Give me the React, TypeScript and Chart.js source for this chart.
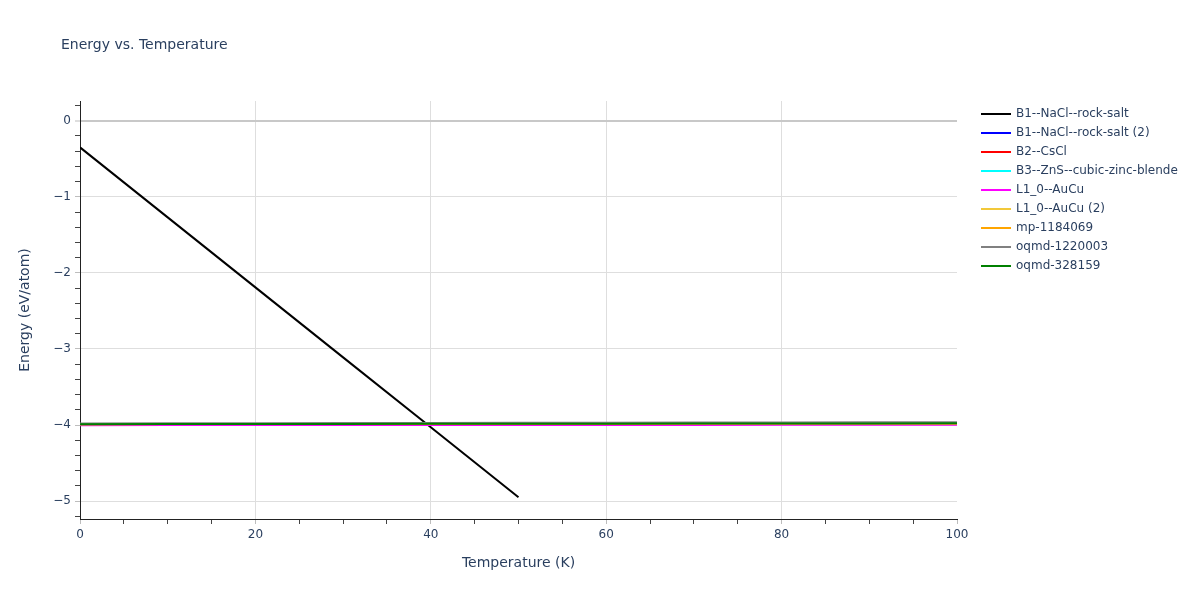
import React, { useEffect, useRef } from 'react';
import { Chart, registerables } from 'chart.js';

Chart.register(...registerables);

const chartTitle = 'Energy vs. Temperature';
const xAxisTitle = 'Temperature (K)';
const yAxisTitle = 'Energy (eV/atom)';

const seriesNames = [
  'B1--NaCl--rock-salt',
  'B1--NaCl--rock-salt (2)',
  'B2--CsCl',
  'B3--ZnS--cubic-zinc-blende',
  'L1_0--AuCu',
  'L1_0--AuCu (2)',
  'mp-1184069',
  'oqmd-1220003',
  'oqmd-328159',
];
const seriesColors = ['#000000', '#0000ff', '#ff0000', '#00ffff', '#ff00ff', '#f2c83a', '#ffa500', '#808080', '#008000'];

const shortTemps = [0, 10, 20, 30, 40, 50];
const fullTemps = [0, 10, 20, 30, 40, 50, 60, 70, 80, 90, 100];

const rockSalt = [-0.35, -1.27, -2.19, -3.11, -4.03, -4.95];
const rockSalt2 = [-3.988, -3.987, -3.986, -3.985, -3.984, -3.983, -3.982, -3.981, -3.98, -3.979, -3.978];
const csCl = [-3.988, -3.987, -3.986, -3.985, -3.984, -3.983, -3.982, -3.981, -3.98, -3.979, -3.978];
const znS = [-3.988, -3.987, -3.986, -3.985, -3.984, -3.983, -3.982, -3.981, -3.98, -3.979, -3.978];
const auCu = [-4.001, -4.0, -4.0, -4.0, -3.999, -3.999, -3.998, -3.998, -3.997, -3.997, -3.996];
const auCu2 = [-3.988, -3.987, -3.986, -3.985, -3.984, -3.983, -3.982, -3.981, -3.98, -3.979, -3.978];
const mp1184069 = [-3.988, -3.987, -3.986, -3.985, -3.984, -3.983, -3.982, -3.981, -3.98, -3.979, -3.978];
const oqmd1220003 = [-3.979, -3.977, -3.976, -3.974, -3.972, -3.971, -3.969, -3.967, -3.965, -3.964, -3.962];
const oqmd328159 = [-3.988, -3.987, -3.986, -3.985, -3.984, -3.983, -3.982, -3.981, -3.979, -3.978, -3.977];

const seriesValues = [rockSalt, rockSalt2, csCl, znS, auCu, auCu2, mp1184069, oqmd1220003, oqmd328159];
const seriesTemps = [shortTemps, fullTemps, fullTemps, fullTemps, fullTemps, fullTemps, fullTemps, fullTemps, fullTemps];

const xMin = 0;
const xMax = 100;
const xStep = 5;
const xLabelEvery = 20;
const yMin = -5.235;
const yMax = 0.26;
const yStep = 0.2;

const FONT = '"DejaVu Sans", Verdana, sans-serif';
const TEXT = '#2a3f5f';

const isMultiple = (v: number, m: number) => Math.abs(v / m - Math.round(v / m)) < 1e-6;
const fmt = (v: number) => (v < 0 ? '\u2212' + String(Math.abs(Math.round(v))) : String(Math.round(v)));

const overlayPlugin = {
  id: 'overlay',
  afterDraw(chart: any) {
    const ctx = chart.ctx;
    ctx.save();
    ctx.fillStyle = TEXT;
    ctx.font = `14px ${FONT}`;
    ctx.textBaseline = 'middle';
    ctx.textAlign = 'left';
    ctx.fillText(chartTitle, 61, 45);

    ctx.font = `12px ${FONT}`;
    chart.data.datasets.forEach((ds: any, i: number) => {
      const y = 114 + 19 * i;
      ctx.strokeStyle = ds.borderColor;
      ctx.lineWidth = 2;
      ctx.beginPath();
      ctx.moveTo(981, y);
      ctx.lineTo(1011, y);
      ctx.stroke();
      ctx.fillStyle = TEXT;
      ctx.fillText(ds.label, 1016, y);
    });
    ctx.restore();
  },
};

export default function App() {
  const ref = useRef<HTMLCanvasElement | null>(null);

  useEffect(() => {
    if (!ref.current) return;
    const n = seriesNames.length;
    const datasets = seriesNames.map((name, i) => ({
      label: name,
      data: seriesValues[i].map((v, j) => ({ x: seriesTemps[i][j], y: v })),
      borderColor: seriesColors[i],
      backgroundColor: seriesColors[i],
      borderWidth: 2,
      pointRadius: 0,
      fill: false,
      tension: 0,
      order: n - i,
    }));

    const chart = new Chart(ref.current, {
      type: 'line',
      data: { datasets },
      plugins: [overlayPlugin],
      options: {
        animation: false,
        responsive: false,
        maintainAspectRatio: false,
        layout: { padding: { top: 101, right: 243, left: 0, bottom: 0 } },
        plugins: {
          legend: { display: false },
          title: { display: false },
          tooltip: { enabled: false },
        },
        scales: {
          x: {
            type: 'linear',
            min: xMin,
            max: xMax,
            afterFit: (s: any) => {
              s.height = 81;
            },
            ticks: {
              stepSize: xStep,
              autoSkip: false,
              maxRotation: 0,
              maxTicksLimit: 100,
              includeBounds: false,
              padding: 4,
              color: TEXT,
              font: { family: FONT, size: 12 },
              callback: (v: any) => (isMultiple(Number(v), xLabelEvery) ? fmt(Number(v)) : ''),
            },
            grid: {
              color: (c: any) => {
                const v = c.tick ? c.tick.value : NaN;
                return isMultiple(v, xLabelEvery) && v !== xMin && v !== xMax ? '#dedede' : 'rgba(0,0,0,0)';
              },
              tickColor: (c: any) => {
                const v = c.tick ? c.tick.value : NaN;
                return isMultiple(v, xLabelEvery) ? '#bdbdbd' : '#444444';
              },
              tickLength: 5,
              tickWidth: 1,
              lineWidth: 1,
            },
            border: { display: true, color: '#222222', width: 1 },
            title: {
              display: true,
              text: xAxisTitle,
              color: TEXT,
              font: { family: FONT, size: 14, lineHeight: 1.2 },
              padding: { top: 0, bottom: 28.6 },
            },
          },
          y: {
            type: 'linear',
            min: yMin,
            max: yMax,
            afterFit: (s: any) => {
              s.width = 80;
            },
            ticks: {
              stepSize: yStep,
              autoSkip: false,
              maxTicksLimit: 100,
              includeBounds: false,
              padding: 4,
              color: TEXT,
              font: { family: FONT, size: 12 },
              callback: (v: any) => (isMultiple(Number(v), 1) ? fmt(Number(v)) : ''),
            },
            grid: {
              color: (c: any) => {
                const v = c.tick ? c.tick.value : NaN;
                if (Math.abs(v) < 1e-6) return '#c8c8c8';
                return isMultiple(v, 1) ? '#dedede' : 'rgba(0,0,0,0)';
              },
              lineWidth: (c: any) => {
                const v = c.tick ? c.tick.value : NaN;
                return Math.abs(v) < 1e-6 ? 2 : 1;
              },
              tickColor: (c: any) => {
                const v = c.tick ? c.tick.value : NaN;
                return isMultiple(v, 1) ? '#bdbdbd' : '#444444';
              },
              tickLength: 5,
              tickWidth: 1,
            },
            border: { display: true, color: '#222222', width: 1 },
            title: {
              display: true,
              text: yAxisTitle,
              color: TEXT,
              font: { family: FONT, size: 14, lineHeight: 1.2 },
              padding: { top: 16.6, bottom: 0 },
            },
          },
        },
      },
    } as any);

    return () => chart.destroy();
  }, []);

  return (
    <div style={{ position: 'fixed', left: 0, top: 0, width: 1200, height: 600, background: '#fff' }}>
      <canvas ref={ref} width={1200} height={600} style={{ display: 'block' }} />
    </div>
  );
}
